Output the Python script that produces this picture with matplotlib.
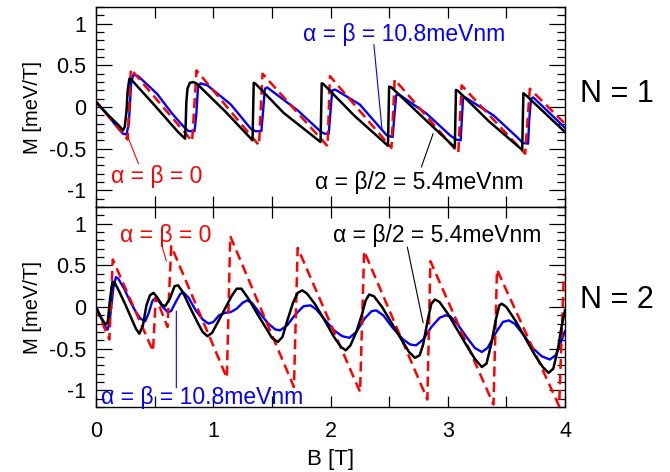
import matplotlib
matplotlib.use("Agg")
import matplotlib.pyplot as plt
from matplotlib.ticker import MultipleLocator, FuncFormatter

plt.rcParams['font.family'] = ['Liberation Sans', 'DejaVu Sans']
plt.rcParams['axes.unicode_minus'] = False

# ---- N = 1 (top panel) ----
top_red_B = [0.0, 0.27, 0.297, 0.82, 0.857, 1.39, 1.42, 1.975, 1.995, 2.52, 2.547,
             3.09, 3.118, 3.66, 3.70, 4.0]
top_red_M = [0.07, -0.39, 0.455, -0.41, 0.44, -0.46, 0.40, -0.47, 0.37, -0.49, 0.33,
             -0.55, 0.26, -0.56, 0.22, -0.20]

top_blue_B = [0.00, 0.10, 0.18, 0.23, 0.26, 0.28, 0.30, 0.32, 0.36, 0.52, 0.65, 0.75,
              0.79, 0.84, 0.855, 0.87, 0.89, 0.95, 1.15, 1.32, 1.36, 1.41, 1.425, 1.44,
              1.46, 1.72, 1.92, 1.95, 1.985, 2.0, 2.015, 2.04, 2.25, 2.43, 2.48, 2.53,
              2.545, 2.56, 2.58, 2.82, 3.02, 3.07, 3.11, 3.12, 3.13, 3.15, 3.39, 3.59,
              3.64, 3.685, 3.695, 3.71, 3.73, 4.00]
top_blue_M = [0.06, -0.10, -0.24, -0.32, -0.33, -0.20, 0.30, 0.39, 0.37, 0.16, -0.08,
              -0.24, -0.29, -0.29, -0.10, 0.24, 0.285, 0.26, 0.03, -0.26, -0.29, -0.29,
              -0.05, 0.22, 0.235, -0.04, -0.30, -0.32, -0.32, -0.05, 0.20, 0.21, 0.03,
              -0.26, -0.34, -0.36, -0.10, 0.14, 0.155, -0.08, -0.34, -0.39, -0.40,
              -0.15, 0.10, 0.115, -0.10, -0.36, -0.43, -0.44, -0.15, 0.10, 0.115, -0.25]

top_black_B = [0.00, 0.10, 0.20, 0.23, 0.245, 0.26, 0.27, 0.285, 0.30, 0.50, 0.70,
               0.76, 0.765, 0.77, 0.78, 0.80, 0.83, 0.86, 1.10, 1.335, 1.345, 1.36,
               1.60, 1.915, 1.925, 1.94, 2.20, 2.49, 2.50, 2.52, 2.80, 3.06, 3.07,
               3.09, 3.35, 3.635, 3.645, 3.66, 4.00]
top_black_M = [0.06, -0.09, -0.23, -0.28, -0.24, -0.05, 0.20, 0.34, 0.33, 0.02, -0.30,
               -0.38, -0.20, 0.05, 0.22, 0.29, 0.30, 0.28, -0.05, -0.40, 0.29, 0.28,
               -0.07, -0.42, 0.285, 0.275, -0.10, -0.465, 0.245, 0.235, -0.14, -0.485,
               0.205, 0.19, -0.17, -0.515, 0.165, 0.15, -0.30]

# ---- N = 2 (bottom panel) ----
bot_red_B = [0.0, 0.114, 0.143, 0.486, 0.51, 0.61, 0.642, 1.116, 1.145, 1.688, 1.72,
             2.252, 2.287, 2.826, 2.852, 3.39, 3.42, 3.95, 3.99]
bot_red_M = [-0.01, -0.39, 0.57, -0.53, 0.12, -0.24, 0.73, -0.85, 0.85, -0.96, 0.71,
             -1.02, 0.67, -1.11, 0.55, -1.17, 0.45, -1.19, 0.39]

bot_black_B = [0.00, 0.04, 0.08, 0.10, 0.12, 0.14, 0.16, 0.20, 0.25, 0.30, 0.34, 0.37,
               0.40, 0.43, 0.46, 0.49, 0.52, 0.56, 0.59, 0.63, 0.67, 0.70, 0.74, 0.80,
               0.86, 0.91, 0.95, 0.99, 1.04, 1.10, 1.16, 1.20, 1.24, 1.30, 1.37, 1.44,
               1.50, 1.55, 1.59, 1.63, 1.68, 1.72, 1.76, 1.80, 1.87, 1.95, 2.03, 2.09,
               2.13, 2.17, 2.22, 2.27, 2.30, 2.33, 2.37, 2.44, 2.52, 2.60, 2.67, 2.72,
               2.76, 2.79, 2.83, 2.86, 2.89, 2.93, 3.00, 3.08, 3.16, 3.23, 3.29, 3.33,
               3.37, 3.41, 3.44, 3.46, 3.50, 3.58, 3.66, 3.74, 3.81, 3.86, 3.90, 3.94,
               3.97, 4.00]
bot_black_M = [0.00, -0.12, -0.21, -0.18, 0.10, 0.30, 0.29, 0.18, 0.03, -0.13, -0.26,
               -0.32, -0.22, 0.02, 0.14, 0.17, 0.12, 0.03, 0.01, 0.10, 0.25, 0.26, 0.18,
               0.00, -0.17, -0.30, -0.35, -0.31, -0.18, -0.02, 0.14, 0.22, 0.22, 0.10,
               -0.07, -0.23, -0.37, -0.42, -0.36, -0.17, 0.05, 0.17, 0.20, 0.16, 0.03,
               -0.16, -0.36, -0.48, -0.52, -0.46, -0.30, -0.08, 0.08, 0.15, 0.13, 0.00,
               -0.19, -0.38, -0.54, -0.61, -0.58, -0.45, -0.15, 0.04, 0.09, 0.06, -0.08,
               -0.27, -0.46, -0.62, -0.72, -0.68, -0.45, -0.15, 0.02, 0.04, 0.00, -0.17,
               -0.37, -0.57, -0.72, -0.79, -0.74, -0.50, -0.24, -0.04]

bot_blue_B = [0.00, 0.04, 0.08, 0.10, 0.12, 0.15, 0.17, 0.19, 0.24, 0.29, 0.34, 0.38,
              0.42, 0.45, 0.48, 0.50, 0.53, 0.57, 0.61, 0.64, 0.68, 0.72, 0.75, 0.79,
              0.85, 0.91, 0.96, 1.00, 1.05, 1.10, 1.15, 1.20, 1.25, 1.29, 1.33, 1.40,
              1.47, 1.53, 1.57, 1.63, 1.70, 1.77, 1.83, 1.88, 1.95, 2.03, 2.10, 2.16,
              2.22, 2.29, 2.35, 2.39, 2.45, 2.53, 2.62, 2.68, 2.73, 2.79, 2.86, 2.93,
              2.98, 3.02, 3.08, 3.16, 3.23, 3.29, 3.34, 3.41, 3.47, 3.52, 3.57, 3.65,
              3.73, 3.80, 3.87, 3.92, 3.96, 4.00]
bot_blue_M = [0.00, -0.12, -0.24, -0.27, -0.12, 0.25, 0.36, 0.34, 0.22, 0.07, -0.06,
              -0.14, -0.17, -0.07, 0.07, 0.10, 0.08, 0.00, -0.06, -0.05, 0.06, 0.16,
              0.17, 0.11, -0.04, -0.15, -0.20, -0.18, -0.10, -0.07, -0.06, -0.02, 0.05,
              0.08, 0.05, -0.08, -0.20, -0.27, -0.28, -0.22, -0.09, 0.01, 0.02, -0.03,
              -0.15, -0.28, -0.35, -0.37, -0.30, -0.14, -0.05, -0.04, -0.10, -0.25,
              -0.39, -0.45, -0.46, -0.39, -0.24, -0.13, -0.10, -0.11, -0.20, -0.36,
              -0.49, -0.54, -0.49, -0.31, -0.18, -0.16, -0.20, -0.34, -0.50, -0.59,
              -0.63, -0.58, -0.44, -0.29]

RED = '#ff0000'
BLUE = '#0000ff'

fig = plt.figure(figsize=(6.7, 4.72), dpi=100)
ax1 = fig.add_axes([0.1433, 0.5614, 0.70, 0.4237])
ax2 = fig.add_axes([0.1433, 0.1377, 0.70, 0.4237], sharex=ax1)


def style(ax):
    ax.set_xlim(0, 4)
    ax.set_ylim(-1.2, 1.2)
    ax.xaxis.set_major_locator(MultipleLocator(0.5))
    ax.xaxis.set_major_formatter(FuncFormatter(
        lambda v, p: '%d' % round(v) if abs(v - round(v)) < 1e-6 else ''))
    ax.yaxis.set_major_locator(MultipleLocator(0.5))
    ax.yaxis.set_minor_locator(MultipleLocator(0.1))
    ax.yaxis.set_major_formatter(FuncFormatter(lambda v, p: '%g' % v))
    ax.tick_params(axis='x', which='major', direction='in', top=True, bottom=True,
                   length=8, width=0.9, labelsize=15.5, pad=10)
    ax.tick_params(axis='y', which='major', direction='in', left=True, right=True,
                   length=11.5, width=0.9, labelsize=15.5, pad=7)
    ax.tick_params(axis='y', which='minor', direction='in', left=True, right=True,
                   length=5.5, width=0.9)
    for s in ax.spines.values():
        s.set_linewidth(1.0)
    ax.set_ylabel('M [meV/T]', fontsize=14.5, labelpad=5)


style(ax1)
style(ax2)
ax1.tick_params(axis='x', labelbottom=False)

# top panel curves
ax1.plot(top_blue_B, top_blue_M, color=BLUE, lw=1.7, zorder=2)
ax1.plot(top_red_B, top_red_M, color=RED, lw=1.8, dashes=(4, 2.2), zorder=3)
ax1.plot(top_black_B, top_black_M, color='black', lw=1.8, zorder=4)

# bottom panel curves
ax2.plot(bot_blue_B, bot_blue_M, color=BLUE, lw=1.7, zorder=2)
ax2.plot(bot_red_B, bot_red_M, color=RED, lw=1.8, dashes=(4, 2.2), zorder=3)
ax2.plot(bot_black_B, bot_black_M, color='black', lw=1.8, zorder=4)

ax2.set_xlabel('B [T]', fontsize=16, labelpad=5)

lead = dict(arrowstyle='-', lw=0.8, shrinkA=0, shrinkB=0)
FS = 16.5

# top annotations
ax1.text(2.625, 0.875, 'α = β = 10.8meVnm', color=BLUE, fontsize=FS,
         ha='center', va='center', zorder=6)
ax1.annotate('', xy=(2.44, -0.28), xytext=(2.37, 0.75),
             arrowprops=dict(lead, color=BLUE))
ax1.text(0.518, -0.83, 'α = β = 0', color=RED, fontsize=FS,
         ha='center', va='center', zorder=6)
ax1.annotate('', xy=(0.277, -0.38), xytext=(0.362, -0.68),
             arrowprops=dict(lead, color=RED))
ax1.text(2.754, -0.91, 'α = β/2 = 5.4meVnm', color='black', fontsize=FS,
         ha='center', va='center', zorder=6)
ax1.annotate('', xy=(2.875, -0.32), xytext=(2.775, -0.72),
             arrowprops=dict(lead, color='black'))

# bottom annotations
ax2.text(0.591, 0.86, 'α = β = 0', color=RED, fontsize=FS,
         ha='center', va='center', zorder=6)
ax2.annotate('', xy=(0.60, 0.55), xytext=(0.557, 0.76),
             arrowprops=dict(lead, color=RED))
ax2.text(2.908, 0.855, 'α = β/2 = 5.4meVnm', color='black', fontsize=FS,
         ha='center', va='center', zorder=6)
ax2.annotate('', xy=(2.79, -0.19), xytext=(2.655, 0.72),
             arrowprops=dict(lead, color='black'))
ax2.text(0.905, -1.083, 'α = β = 10.8meVnm', color=BLUE, fontsize=FS,
         ha='center', va='center', zorder=6)
ax2.annotate('', xy=(0.685, -0.05), xytext=(0.685, -0.97),
             arrowprops=dict(lead, color=BLUE))

fig.text(0.921, 0.80, 'N = 1', fontsize=22, ha='center', va='center')
fig.text(0.921, 0.365, 'N = 2', fontsize=22, ha='center', va='center')

fig.savefig('out.png', dpi=100)
